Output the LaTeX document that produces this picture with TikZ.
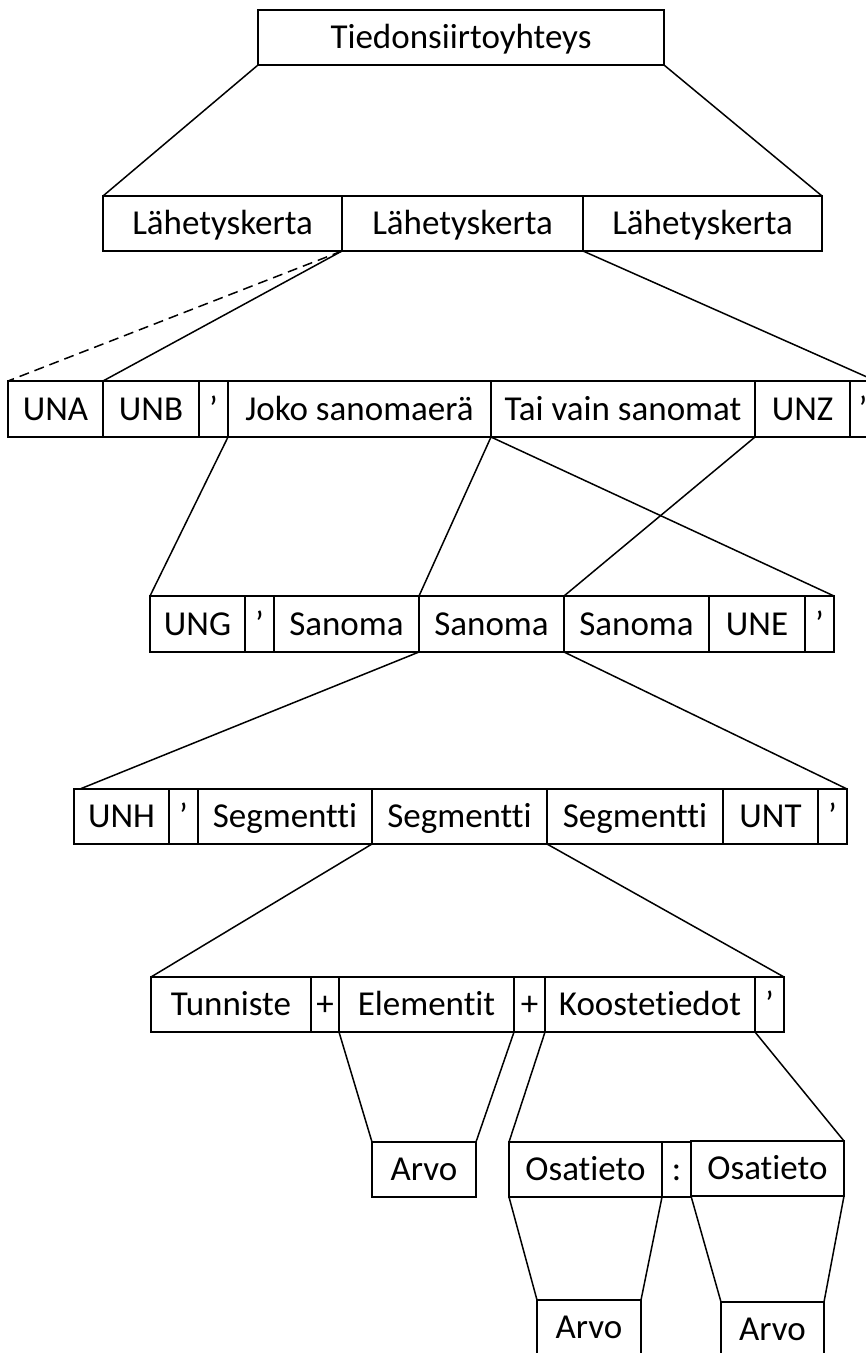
\documentclass[tikz,border=0pt]{standalone}
\usepackage{fontspec}
\setmainfont{Carlito}[Ligatures=NoCommon]
\newcommand{\bx}[6]{%
  \pgfmathsetmacro{\bw}{#4-#2}\pgfmathsetmacro{\bh}{#5-#3}%
  \node[box, minimum width=\bw pt, minimum height=\bh pt] (#1) at ({(#2+#4)/2},{-(#3+#5)/2}) {#6};}
\begin{document}
\begin{tikzpicture}[x=1pt,y=1pt,
  box/.style={draw, line width=1.6pt, rectangle, inner sep=0pt, outer sep=0pt,
    font=\fontsize{35pt}{42pt}\selectfont, text height=22pt, text depth=0pt},
  conn/.style={line width=1.5pt},
  dconn/.style={line width=1.5pt, dash pattern=on 10pt off 6pt}]
\clip (0,0) rectangle (866,-1353);
% level 0
\bx{top}{258}{10}{664}{65}{Tiedonsiirtoyhteys}
% level 1
\bx{la}{103}{196}{342}{251}{Lähetyskerta}
\bx{lb}{342}{196}{583}{251}{Lähetyskerta}
\bx{lc}{583}{196}{822}{251}{Lähetyskerta}
% level 2
\bx{una}{8}{381}{103}{437}{UNA}
\bx{unb}{103}{381}{199}{437}{UNB}
\bx{qa}{199}{381}{228}{437}{’}
\bx{joko}{228}{381}{491}{437}{Joko sanomaerä}
\bx{tai}{491}{381}{755}{437}{Tai vain sanomat}
\bx{unz}{755}{381}{850}{437}{UNZ}
\bx{qb}{850}{381}{876}{437}{’}
% level 3
\bx{ung}{150}{596}{245}{652}{UNG}
\bx{qc}{245}{596}{274}{652}{’}
\bx{sa}{274}{596}{419}{652}{Sanoma}
\bx{sb}{419}{596}{564}{652}{Sanoma}
\bx{sc}{564}{596}{709}{652}{Sanoma}
\bx{une}{709}{596}{805}{652}{UNE}
\bx{qd}{805}{596}{834}{652}{’}
% level 4
\bx{unh}{74}{789}{169}{844}{UNH}
\bx{qe}{169}{789}{198}{844}{’}
\bx{ga}{198}{789}{372}{844}{Segmentti}
\bx{gb}{372}{789}{547}{844}{Segmentti}
\bx{gc}{547}{789}{723}{844}{Segmentti}
\bx{unt}{723}{789}{818}{844}{UNT}
\bx{qf}{818}{789}{847}{844}{’}
% level 5
\bx{tun}{151}{977}{311}{1032}{Tunniste}
\bx{pa}{311}{977}{339}{1032}{+}
\bx{ele}{339}{977}{514}{1032}{Elementit}
\bx{pb}{514}{977}{545}{1032}{+}
\bx{koo}{545}{977}{755}{1032}{Koostetiedot}
\bx{qg}{755}{977}{784}{1032}{’}
% level 6
\bx{arvoa}{372}{1142}{476}{1197}{Arvo}
\bx{osa}{509}{1142}{662}{1197}{Osatieto}
\bx{col}{662}{1142}{691}{1197}{:}
\bx{osb}{691}{1141}{844}{1196}{Osatieto}
% level 7
\bx{arvob}{537}{1300}{641}{1355}{Arvo}
\bx{arvoc}{721}{1302}{824}{1357}{Arvo}
% connectors
\draw[conn] (top.south west) -- (la.north west);
\draw[conn] (top.south east) -- (lc.north east);
\draw[dconn] (lb.south west) -- (una.north west);
\draw[conn] (lb.south west) -- (unb.north west);
\draw[conn] (lb.south east) -- (qb.north east);
\draw[conn] (joko.south west) -- (ung.north west);
\draw[conn] (joko.south east) -- (sb.north west);
\draw[conn] (joko.south east) -- (qd.north east);
\draw[conn] (tai.south east) -- (sc.north west);
\draw[conn] (sb.south west) -- ([xshift=6pt]unh.north west);
\draw[conn] (sb.south east) -- (qf.north east);
\draw[conn] (gb.south west) -- (tun.north west);
\draw[conn] (gb.south east) -- (qg.north east);
\draw[conn] (ele.south west) -- (arvoa.north west);
\draw[conn] (ele.south east) -- (arvoa.north east);
\draw[conn] (koo.south west) -- (osa.north west);
\draw[conn] (koo.south east) -- (osb.north east);
\draw[conn] (osa.south west) -- (arvob.north west);
\draw[conn] (osa.south east) -- (arvob.north east);
\draw[conn] (osb.south west) -- (arvoc.north west);
\draw[conn] (osb.south east) -- (arvoc.north east);
\end{tikzpicture}
\end{document}
